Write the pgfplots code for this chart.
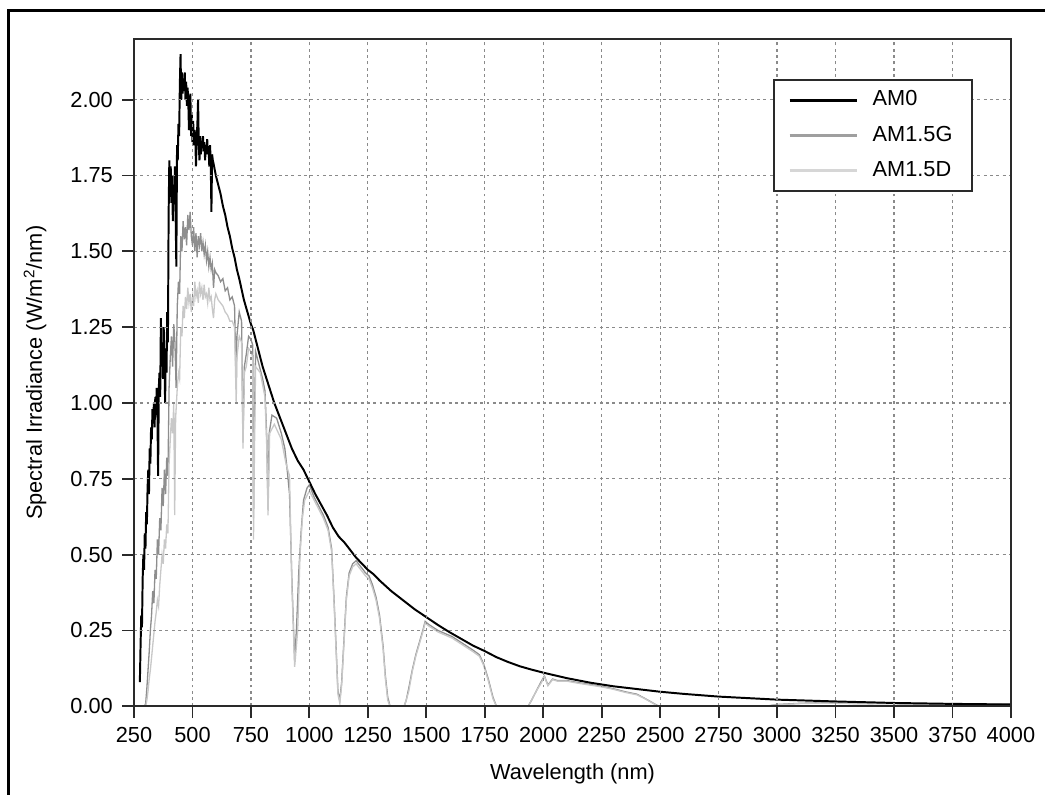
\documentclass[border=0pt]{standalone}
\usepackage{fontspec}
\setmainfont{Liberation Sans}
\usepackage{pgfplots}
\pgfplotsset{compat=1.18}
\definecolor{gline}{HTML}{8E8E8E}
\definecolor{dline}{HTML}{C8C8C8}
\definecolor{gridc}{HTML}{8A8A8A}
\definecolor{axc}{HTML}{2A2A2A}

\begin{document}
\begin{tikzpicture}
% picture size in reference pixels, origin at the axis' lower left corner
\begin{scope}[x=0.013384cm,y=0.013384cm]
\path[use as bounding box] (-134.2,-88.7) rectangle (911.8,707.3);
\end{scope}
\begin{axis}[
    scale only axis,
    width=11.751cm,
    height=8.941cm,
    xmin=250, xmax=4000,
    ymin=0, ymax=2.2,
    xtick={250,500,...,4000},
    ytick={0,0.25,...,2.0},
    xtick pos=left, ytick pos=left,
    tick align=outside,
    major tick length=0.16cm,
    tick style={axc, line width=0.7pt},
    axis line style={axc, line width=0.8pt},
    axis on top,
    grid=major,
    major grid style={gridc, line width=0.45pt, dash pattern=on 1.1pt off 1.3pt},
    ticklabel style={font=\fontsize{8.3}{10}\selectfont},
    xticklabel style={/pgf/number format/.cd, 1000 sep={}, assume math mode=true},
    yticklabel style={/pgf/number format/.cd, fixed, fixed zerofill, precision=2, assume math mode=true},
    xlabel={Wavelength (nm)},
    ylabel={Spectral Irradiance (W/m\textsuperscript{2}/nm)},
    label style={font=\fontsize{8.3}{10}\selectfont},
    xlabel style={at={(axis description cs:0.5,-0.1093)}, anchor=base},
    ylabel style={at={(axis description cs:-0.1128,0.5)}, anchor=center},
    legend cell align=left,
    legend image code/.code={\draw[#1] (0cm,0cm) -- (0.9cm,0cm);},
    legend style={at={(axis description cs:0.957,0.940)}, anchor=north east,
        draw=axc, line width=0.8pt, font=\fontsize{8.3}{10}\selectfont,
        inner xsep=5.5pt, inner ysep=2pt, row sep=2.2pt,
        /tikz/every odd column/.append style={column sep=3.5pt}},
]
\addlegendimage{black, line width=1.1pt}
\addlegendentry{AM0}
\addlegendimage{gline!85, line width=1.1pt}
\addlegendentry{AM1.5G}
\addlegendimage{dline!75, line width=1.1pt}
\addlegendentry{AM1.5D}

% AM1.5G
\addplot[gline, line width=0.5pt, forget plot] coordinates {
(295,0) (300,0.01) (305,0.06) (310,0.12) (315,0.18) (320,0.25) (325,0.30) (330,0.38)
(335,0.34) (340,0.45) (345,0.42) (350,0.55) (355,0.50) (360,0.62) (365,0.58) (370,0.72)
(375,0.66) (380,0.78) (385,0.70) (390,0.82) (395,0.76) (400,1.05) (405,1.15) (410,1.22)
(415,1.12) (420,1.26) (425,1.20) (430,1.05) (435,1.32) (440,1.40) (445,1.36) (450,1.55)
(455,1.50) (460,1.60) (465,1.54) (470,1.58) (475,1.52) (480,1.62) (485,1.57) (490,1.63)
(495,1.55) (500,1.52) (505,1.58) (510,1.50) (515,1.56) (520,1.48) (525,1.55) (530,1.52)
(535,1.56) (540,1.50) (545,1.53) (550,1.49) (555,1.52) (560,1.47) (565,1.50) (570,1.45)
(575,1.48) (580,1.44) (585,1.46) (590,1.38) (595,1.44) (600,1.43) (610,1.42) (620,1.40)
(630,1.41) (640,1.37) (650,1.38) (660,1.34) (670,1.35) (680,1.32) (687,1.05) (690,1.22)
(700,1.30) (710,1.27) (716,0.88) (722,1.12) (730,1.16) (740,1.22) (750,1.21) (758,1.19)
(761,0.62) (765,0.95) (770,1.17) (780,1.14) (790,1.11) (800,1.08) (810,1.04) (818,0.88)
(823,0.65) (828,0.90) (840,0.96) (860,0.95) (880,0.90) (895,0.85) (905,0.78) (915,0.70)
(925,0.42) (937,0.15) (945,0.26) (955,0.45) (965,0.58) (975,0.68) (990,0.72) (1000,0.73)
(1020,0.69) (1040,0.66) (1060,0.63) (1080,0.59) (1095,0.52) (1105,0.36) (1115,0.18)
(1122,0.05) (1130,0.02) (1138,0.08) (1148,0.22) (1158,0.36) (1170,0.44) (1185,0.47)
(1200,0.48) (1220,0.46) (1240,0.44) (1255,0.43) (1270,0.40) (1285,0.36) (1300,0.30)
(1315,0.20) (1325,0.10) (1335,0.03) (1345,0) (1405,0) (1414,0.02) (1425,0.06) (1440,0.12)
(1455,0.17) (1470,0.21) (1485,0.25) (1495,0.28) (1510,0.27) (1530,0.26) (1550,0.25)
(1580,0.24) (1610,0.23) (1640,0.215) (1670,0.20) (1700,0.185) (1727,0.17) (1745,0.14)
(1765,0.09) (1785,0.03) (1800,0) (1935,0) (1950,0.02) (1970,0.05) (1990,0.08) (2005,0.10)
(2020,0.07) (2040,0.09) (2060,0.085) (2100,0.085) (2150,0.078) (2200,0.072) (2250,0.066)
(2300,0.058) (2350,0.048) (2400,0.040) (2430,0.028) (2460,0.015) (2485,0.004) (2500,0)
(2950,0) (3000,0.006) (3100,0.010) (3200,0.012) (3300,0.010) (3400,0.009) (3500,0.010)
(3600,0.006) (3700,0.008) (3850,0.007) (4000,0.006)
};

% AM1.5D
\addplot[dline, line width=0.5pt, forget plot] coordinates {
(300,0) (305,0.02) (310,0.05) (315,0.09) (320,0.12) (325,0.16) (330,0.20) (335,0.24)
(340,0.28) (345,0.31) (350,0.35) (355,0.33) (360,0.40) (365,0.45) (370,0.50) (375,0.47)
(380,0.55) (385,0.52) (390,0.60) (395,0.57) (400,0.80) (405,0.88) (410,0.95) (415,0.90)
(420,1.00) (424,0.63) (428,0.95) (435,1.05) (440,1.10) (445,1.08) (450,1.25) (455,1.22)
(460,1.32) (465,1.28) (470,1.35) (475,1.31) (480,1.38) (485,1.33) (490,1.36) (495,1.30)
(500,1.35) (505,1.32) (510,1.40) (515,1.35) (520,1.37) (525,1.33) (530,1.40) (535,1.36)
(540,1.38) (545,1.34) (550,1.39) (555,1.35) (560,1.36) (565,1.33) (570,1.38) (575,1.34)
(580,1.35) (585,1.31) (590,1.28) (595,1.34) (600,1.36) (610,1.34) (620,1.33) (630,1.32)
(640,1.30) (650,1.29) (660,1.27) (670,1.27) (680,1.25) (687,1.00) (690,1.15) (700,1.22)
(710,1.20) (716,0.85) (722,1.10) (730,1.12) (740,1.18) (750,1.17) (758,1.15) (761,0.55)
(766,0.90) (770,1.12) (780,1.11) (790,1.10) (800,1.06) (810,1.02) (818,0.85) (823,0.63)
(830,0.90) (850,0.93) (880,0.88) (900,0.80) (915,0.76) (925,0.40) (937,0.13) (950,0.25)
(960,0.50) (970,0.62) (980,0.68) (1000,0.71) (1020,0.68) (1040,0.65) (1060,0.62)
(1080,0.58) (1095,0.51) (1105,0.35) (1115,0.17) (1122,0.04) (1130,0.01) (1138,0.07)
(1148,0.21) (1158,0.35) (1170,0.43) (1185,0.46) (1200,0.47) (1220,0.45) (1240,0.43)
(1255,0.42) (1270,0.39) (1285,0.35) (1300,0.29) (1315,0.19) (1325,0.09) (1335,0.02)
(1345,0) (1405,0) (1414,0.02) (1425,0.05) (1440,0.115) (1455,0.165) (1470,0.205) (1485,0.245)
(1495,0.275) (1510,0.265) (1530,0.255) (1550,0.245) (1580,0.235) (1610,0.225) (1640,0.21)
(1670,0.195) (1700,0.18) (1727,0.165) (1745,0.135) (1765,0.085) (1785,0.025) (1800,0)
(1935,0) (1950,0.02) (1970,0.05) (1990,0.075) (2005,0.098) (2020,0.068) (2040,0.088)
(2060,0.083) (2100,0.083) (2150,0.076) (2200,0.070) (2250,0.064) (2300,0.056) (2350,0.046)
(2400,0.038) (2430,0.027) (2460,0.014) (2485,0.003) (2500,0) (2950,0) (3000,0.005)
(3100,0.009) (3200,0.011) (3300,0.009) (3400,0.008) (3500,0.009) (3600,0.005)
(3700,0.007) (3850,0.006) (4000,0.005)
};

% AM0
\addplot[black, line width=0.75pt, forget plot] coordinates {
(275,0.08) (278,0.20) (281,0.30) (284,0.26) (287,0.42) (290,0.50) (293,0.45) (296,0.57)
(299,0.52) (302,0.64) (305,0.60) (308,0.72) (311,0.78) (314,0.70) (317,0.85) (320,0.80)
(323,0.92) (326,0.88) (329,0.98) (332,0.94) (335,1.00) (338,0.92) (341,1.02) (344,0.96)
(347,1.05) (350,0.98) (353,0.76) (356,1.05) (359,1.10) (362,1.02) (365,1.28) (368,1.12)
(371,1.20) (374,1.08) (377,1.25) (380,1.15) (383,1.00) (386,1.18) (389,1.10) (392,1.30)
(395,1.20) (398,1.62) (401,1.80) (404,1.68) (407,1.78) (410,1.66) (413,1.75) (416,1.60)
(419,1.72) (422,1.68) (425,1.78) (428,1.62) (431,1.45) (434,1.85) (437,1.80) (440,1.92)
(443,1.88) (446,2.05) (449,2.15) (452,2.00) (455,2.09) (458,2.02) (461,2.07) (464,2.03)
(467,2.09) (470,2.00) (473,2.06) (476,1.98) (479,2.04) (482,2.00) (485,1.90) (488,1.96)
(491,2.02) (494,1.88) (497,1.95) (500,1.86) (503,1.93) (506,1.85) (509,1.90) (512,1.88)
(515,1.78) (518,1.87) (521,1.92) (524,2.00) (527,1.85) (530,1.80) (533,1.88) (536,1.82)
(539,1.86) (542,1.84) (545,1.88) (548,1.83) (551,1.86) (554,1.80) (557,1.85) (560,1.82)
(563,1.87) (566,1.82) (569,1.84) (572,1.78) (575,1.85) (578,1.80) (581,1.63) (584,1.82)
(587,1.80) (590,1.79) (595,1.77) (600,1.75) (610,1.72) (620,1.69) (630,1.65) (640,1.62)
(650,1.58) (660,1.55) (670,1.51) (680,1.48) (690,1.44) (700,1.41) (720,1.34) (750,1.26)
(760,1.24) (780,1.18) (800,1.12) (825,1.06) (850,1.00) (875,0.95) (900,0.90) (925,0.85)
(950,0.81) (975,0.78) (1000,0.74) (1025,0.70) (1050,0.665) (1075,0.63) (1100,0.59)
(1125,0.56) (1150,0.54) (1175,0.515) (1200,0.49) (1225,0.47) (1250,0.45) (1275,0.435)
(1300,0.415) (1350,0.38) (1400,0.35) (1450,0.32) (1500,0.294) (1550,0.268) (1600,0.244)
(1650,0.222) (1700,0.20) (1750,0.182) (1800,0.162) (1850,0.146) (1900,0.132) (1950,0.121)
(2000,0.111) (2100,0.093) (2200,0.078) (2300,0.066) (2400,0.057) (2500,0.048) (2600,0.041)
(2750,0.032) (3000,0.022) (3250,0.016) (3500,0.011) (3750,0.008) (4000,0.006)
};
\end{axis}
\begin{scope}[x=0.013384cm,y=0.013384cm]
\draw[black, line width=1.1pt] (-125.7,-88.7) -- (-125.7,696.6) -- (911.8,696.6);
\end{scope}
\end{tikzpicture}
\end{document}
